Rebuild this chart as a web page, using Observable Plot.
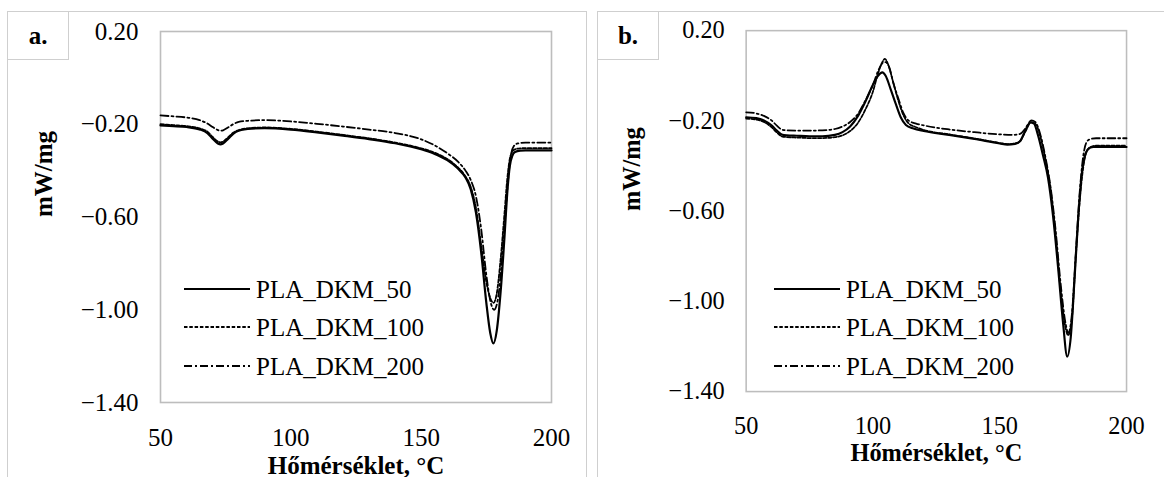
<!DOCTYPE html>
<html>
<head>
<meta charset="utf-8">
<script src="https://cdn.jsdelivr.net/npm/d3@7"></script>
<script src="https://cdn.jsdelivr.net/npm/@observablehq/plot@0.6"></script>
<style>
  html, body { margin: 0; padding: 0; background: #fff; }
  #root { position: relative; width: 1164px; height: 477px; overflow: hidden; font-family: "Liberation Serif", serif; }
  #root svg text { font-family: "Liberation Serif", serif; }
  .panel { position: absolute; top: 11px; width: 580px; height: 500px; border: 1px solid #cfcfcf; box-sizing: border-box; }
  .tag { position: absolute; top: 11px; height: 49px; border: 1px solid #cfcfcf; box-sizing: border-box; font-weight: bold; font-size: 25px; display: flex; align-items: center; justify-content: center; background: #fff; }
  .plotwrap { position: absolute; top: 0; }
</style>
</head>
<body>
<div id="root"></div>
<script>
// ---------- data ----------
const seriesNames = ["PLA_DKM_50", "PLA_DKM_100", "PLA_DKM_200"];
const panelTags = ["a.", "b."];
const xTicks = [50, 100, 150, 200];
const yTicks = [0.2, -0.2, -0.6, -1.0, -1.4];
const xTitle = "Hőmérséklet, °C";
const yTitle = "mW/mg";

// Panel a
const T_a50 = [50,55,60,65,68,70,72,73,74,76,78,80,85,90,100,110,120,130,140,150,155,160,164,167,169,171,173,175,176.5,177.7,179,180.5,182,183,184,185,186,188,190,200];
const V_a50 = [-0.205,-0.208,-0.212,-0.222,-0.238,-0.262,-0.283,-0.287,-0.283,-0.262,-0.240,-0.228,-0.219,-0.217,-0.223,-0.235,-0.249,-0.264,-0.282,-0.308,-0.327,-0.355,-0.39,-0.43,-0.48,-0.58,-0.75,-0.97,-1.10,-1.145,-1.09,-0.92,-0.68,-0.50,-0.38,-0.335,-0.32,-0.314,-0.313,-0.313];
const T_a100 = [50,55,60,65,68,70,72,73,74,76,78,80,85,90,100,110,120,130,140,150,155,160,164,167,169,171,173,175,176.5,177.8,179,180.5,182,183,184,185,186,188,190,200];
const V_a100 = [-0.200,-0.204,-0.208,-0.218,-0.232,-0.255,-0.274,-0.278,-0.275,-0.256,-0.236,-0.225,-0.216,-0.214,-0.220,-0.232,-0.246,-0.261,-0.279,-0.304,-0.322,-0.350,-0.385,-0.425,-0.47,-0.56,-0.72,-0.88,-0.95,-0.97,-0.93,-0.78,-0.58,-0.44,-0.35,-0.318,-0.308,-0.304,-0.303,-0.303];
const T_a200 = [50,55,60,65,68,70,72,73,74,76,78,80,85,90,100,110,120,130,140,150,155,160,164,167,169,171,173,175,176.5,178,179.5,181,182.5,183.5,184.5,185.5,187,190,200];
const V_a200 = [-0.162,-0.166,-0.171,-0.182,-0.197,-0.212,-0.225,-0.228,-0.226,-0.213,-0.199,-0.190,-0.184,-0.182,-0.188,-0.198,-0.210,-0.223,-0.238,-0.265,-0.290,-0.325,-0.36,-0.40,-0.44,-0.51,-0.65,-0.85,-0.96,-1.0,-0.95,-0.78,-0.56,-0.42,-0.33,-0.295,-0.283,-0.279,-0.279];

// Panel b
const T_b50 = [50,54,57,60,62,64,66,70,75,80,85,88,91,94,97,100,102,103.7,105,107,109,111,113,116,120,130,140,150,153,156,158,160,162,163.5,165,167,169,171,173,175,176.6,178,179.5,181,182.5,184,185.5,187,190,200];
const V_b50 = [-0.184,-0.188,-0.198,-0.220,-0.242,-0.260,-0.264,-0.266,-0.268,-0.268,-0.262,-0.250,-0.225,-0.180,-0.115,-0.040,0.000,0.015,0.000,-0.060,-0.125,-0.185,-0.218,-0.234,-0.245,-0.262,-0.280,-0.300,-0.305,-0.302,-0.290,-0.245,-0.207,-0.212,-0.260,-0.350,-0.450,-0.620,-0.850,-1.100,-1.245,-1.160,-0.900,-0.620,-0.420,-0.340,-0.320,-0.315,-0.315,-0.316];
const T_b100 = [50,54,57,60,62,64,66,70,75,80,85,88,91,94,97,100,102,103.7,104.7,106,108,110,112,114,117,120,130,140,150,153,156,158,160,162.5,164,166,168,170,172,174,176,177,178.5,180,181.5,183,184.5,186,188,200];
const V_b100 = [-0.190,-0.194,-0.205,-0.228,-0.250,-0.268,-0.272,-0.274,-0.276,-0.276,-0.272,-0.264,-0.245,-0.210,-0.150,-0.070,0.010,0.060,0.075,0.050,-0.030,-0.110,-0.175,-0.210,-0.228,-0.240,-0.260,-0.278,-0.298,-0.303,-0.300,-0.290,-0.250,-0.205,-0.212,-0.270,-0.370,-0.500,-0.700,-0.950,-1.120,-1.150,-1.070,-0.800,-0.560,-0.400,-0.330,-0.315,-0.310,-0.310];
const T_b200 = [50,54,57,60,62,64,66,70,75,80,85,88,91,94,97,100,102,104,105,106.5,108,110,112,114,117,120,130,140,150,155,158,160,162.5,164,166,168,170,172,174,176,177,178.5,180,181.5,183,184.5,186,188,200];
const V_b200 = [-0.162,-0.167,-0.178,-0.198,-0.220,-0.238,-0.242,-0.243,-0.243,-0.242,-0.236,-0.225,-0.205,-0.170,-0.110,-0.040,0.020,0.058,0.060,0.035,-0.030,-0.100,-0.165,-0.198,-0.212,-0.220,-0.238,-0.250,-0.260,-0.262,-0.258,-0.235,-0.198,-0.205,-0.260,-0.360,-0.490,-0.680,-0.920,-1.100,-1.140,-1.050,-0.780,-0.520,-0.350,-0.290,-0.280,-0.277,-0.277];

// ---------- styles ----------
const lineStyles = [
  {strokeWidth: 2.2, strokeDasharray: null},
  {strokeWidth: 1.8, strokeDasharray: "3.5,1.8"},
  {strokeWidth: 1.8, strokeDasharray: "8,3,2,3"}
];
const FONT = "Liberation Serif, serif";

function rows(T, V, s) { return T.map((t, i) => ({t, v: V[i], s})); }

const panels = [
  [rows(T_a50, V_a50, 0), rows(T_a100, V_a100, 1), rows(T_a200, V_a200, 2)],
  [rows(T_b50, V_b50, 0), rows(T_b100, V_b100, 1), rows(T_b200, V_b200, 2)]
];

const root = document.getElementById("root");
const fmt = d3.format(".2f");

panels.forEach((series, p) => {
  const off = p * 590;
  const panel = document.createElement("div");
  panel.className = "panel";
  panel.style.left = (7 + off) + "px";
  root.appendChild(panel);

  const chart = Plot.plot({
    width: 590,
    height: 477,
    marginLeft: 160,
    marginRight: 39,
    marginTop: 31,
    marginBottom: 75,
    style: {fontFamily: FONT, fontSize: "25px", background: "transparent", color: "#000", overflow: "visible"},
    x: {domain: [50, 200], ticks: xTicks, tickSize: 0, tickPadding: 26, label: null},
    y: {domain: [-1.4, 0.2], ticks: yTicks, tickSize: 0, tickPadding: 22, tickFormat: fmt, label: null},
    marks: [
      Plot.frame({stroke: "#bdbdbd", strokeWidth: 1.6}),
      ...series.map((d, i) => Plot.line(d, {
        x: "t", y: "v", stroke: "#000", curve: "monotone-x",
        strokeWidth: lineStyles[i].strokeWidth,
        strokeDasharray: lineStyles[i].strokeDasharray
      })),
      Plot.text([xTitle], {frameAnchor: "bottom", lineAnchor: "middle", dy: 63, text: d => d, fontWeight: "bold", fontSize: 25, fill: "#000"}),
      Plot.text([yTitle], {frameAnchor: "left", lineAnchor: "middle", dx: -117, rotate: -90, text: d => d, fontWeight: "bold", fontSize: 25, fill: "#000"})
    ]
  });
  const wrap = document.createElement("div");
  wrap.className = "plotwrap";
  wrap.style.left = off + "px";
  wrap.appendChild(chart);
  root.appendChild(wrap);

  // tag box
  const tag = document.createElement("div");
  tag.className = "tag";
  tag.style.left = (7 + off) + "px";
  tag.style.width = "62px";
  tag.textContent = panelTags[p];
  root.appendChild(tag);

  // legend
  const leg = d3.create("svg")
    .attr("width", 300).attr("height", 120)
    .style("left", (184 + off) + "px")
    .style("top", "270px")
    .style("position", "absolute")
    .style("overflow", "visible");
  seriesNames.forEach((name, i) => {
    const cy = [19, 57, 96][i];
    leg.append("line")
      .attr("x1", 0).attr("x2", 66).attr("y1", cy).attr("y2", cy)
      .attr("stroke", "#000")
      .attr("stroke-width", lineStyles[i].strokeWidth)
      .attr("stroke-dasharray", lineStyles[i].strokeDasharray);
    leg.append("text")
      .attr("x", 72).attr("y", cy).attr("dy", "0.35em")
      .style("font-family", FONT).style("font-size", "25px")
      .text(name);
  });
  root.appendChild(leg.node());
});
</script>
</body>
</html>
